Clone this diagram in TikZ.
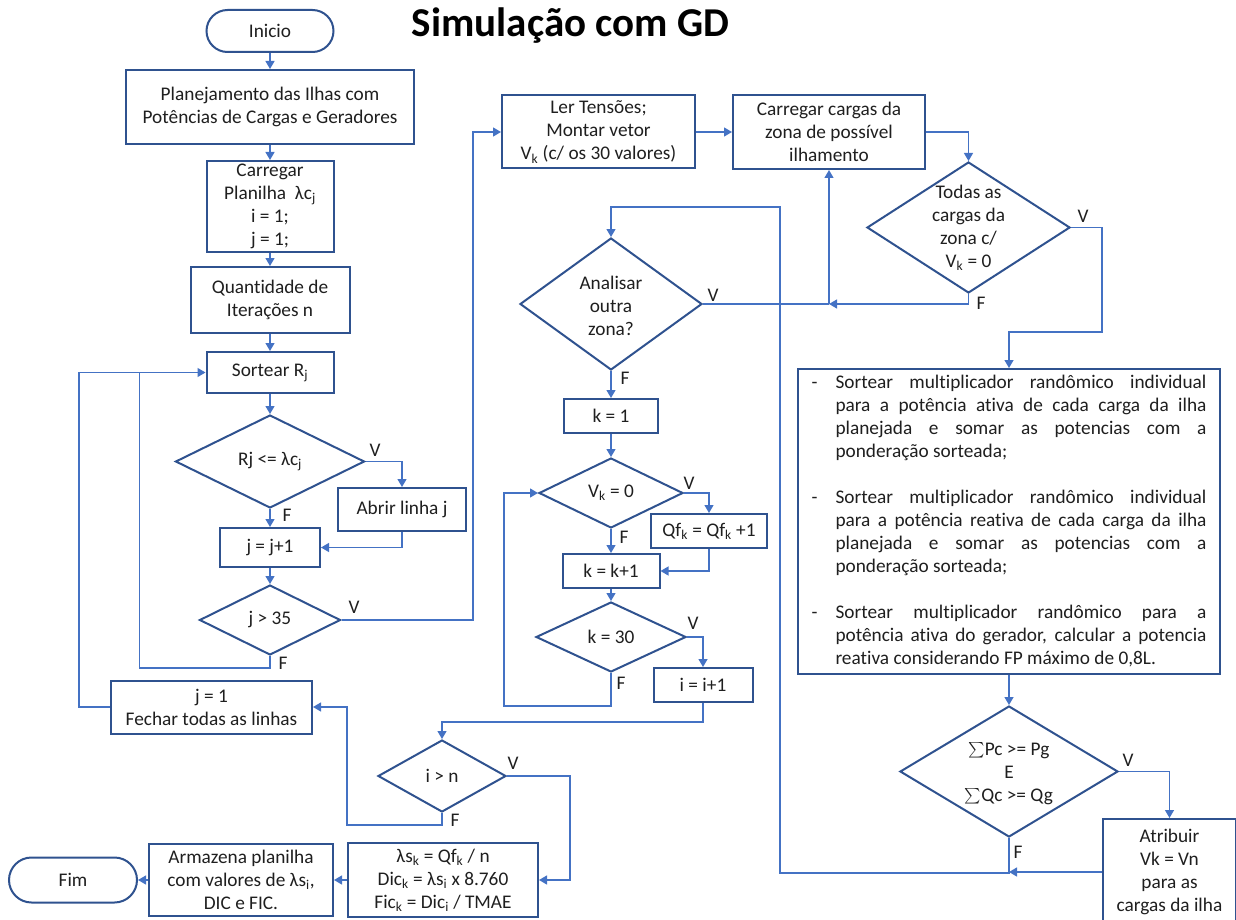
\documentclass[tikz,border=0pt]{standalone}
\usepackage{fontspec}
\setmainfont[Ligatures=NoCommon]{Carlito}
\usetikzlibrary{arrows.meta,shapes.geometric,shapes.misc,calc}
\definecolor{boxblue}{HTML}{2F528F}
\definecolor{lineblue}{HTML}{4472C4}
\definecolor{ink}{HTML}{1F1F1F}
\newcommand\sbs[1]{\textsubscript{#1}}
\newcommand\bigsum{\raisebox{-2.5pt}{\scalebox{1.55}{$\sum$}}}

\begin{document}
\begin{tikzpicture}[x=1pt,y=-1pt,
  every node/.style={text=ink, font=\fontsize{19.3}{23}\selectfont},
  proc/.style args={#1/#2}{draw=boxblue, line width=2pt, fill=white, align=center,
    inner sep=0pt, minimum width=#1, minimum height=#2},
  dec/.style args={#1/#2}{diamond, draw=boxblue, line width=2pt, fill=white,
    inner sep=0pt, minimum width=#1, minimum height=#2},
  term/.style args={#1/#2}{rounded rectangle, draw=boxblue, line width=2pt, fill=white,
    inner sep=0pt, minimum width=#1, minimum height=#2},
  txt/.style={align=center, inner sep=0pt},
  yn/.style={inner sep=0pt},
  link/.style={draw=lineblue, line width=1.3pt},
  conn/.style={link, -{Triangle[length=8pt,width=9pt]}},
  heading/.style={anchor=base, inner sep=0pt, text=black,
    font=\fontsize{41}{44}\selectfont\bfseries},
]
\useasboundingbox (0,0) rectangle (1236,920);
\clip (0,0) rectangle (1236,920);

\node[heading] (title) at (570.5,37) {Simulação com GD};

% ---- left column: drawing the lines ----
\node[term=127pt/42pt] (inicio) at (270,31) {Inicio};
\node[proc=288pt/74pt] (plan) at (270,107) {Planejamento das Ilhas com\\Potências de Cargas e Geradores};
\node[proc=127pt/91pt] (carr) at (270,206.5) {Carregar\\Planilha\ \ λc\sbs{j}\\i = 1;\\j = 1;};
\node[proc=159pt/66pt] (qtd) at (270,300) {Quantidade de\\Iterações n};
\node[proc=127pt/41pt] (sort) at (270,372.5) {Sortear R\sbs{j}};
\node[dec=189pt/93pt] (d1) at (270,461.5) {};
\node[txt] (t1) at (d1) {Rj <= λc\sbs{j}};
\node[proc=128pt/43pt] (abrir) at (402,509.5) {Abrir linha j};
\node[proc=100pt/39pt] (jinc) at (270,547.5) {j = j+1};
\node[dec=141pt/70pt] (d2) at (270,620) {};
\node[txt] (t2) at (d2) {j > 35};
\node[proc=201pt/53pt] (fech) at (211.5,707) {j = 1\\Fechar todas as linhas};

% ---- middle column: voltages and counters ----
\node[proc=193pt/73pt] (ler) at (598.5,132) {Ler Tensões;\\Montar vetor\\V\sbs{k} (c/ os 30 valores)};
\node[proc=192pt/74pt] (carc) at (829,132) {Carregar cargas da\\zona de possível\\ilhamento};
\node[dec=203pt/131pt] (todas) at (968.5,227.5) {};
\node[txt] (t3) at (todas) {Todas as\\cargas da\\zona c/\\V\sbs{k} = 0};
\node[dec=182pt/132pt] (anal) at (611,304) {};
\node[txt] (t4) at (611,306) {Analisar\\outra\\zona?};
\node[proc=94pt/34pt] (k1) at (611,416) {k = 1};
\node[dec=144pt/70pt] (d3) at (611,493) {};
\node[txt] (t5) at (d3) {V\sbs{k} = 0};
\node[proc=116pt/34pt] (qf) at (709,531) {Qf\sbs{k} = Qf\sbs{k} +1};
\node[proc=97pt/34pt] (kinc) at (611,571) {k = k+1};
\node[dec=150pt/70pt] (d4) at (611,637) {};
\node[txt] (t6) at (d4) {k = 30};
\node[proc=99pt/34pt] (iinc) at (703,685) {i = i+1};
\node[dec=128pt/72pt] (d5) at (442,776) {};
\node[txt] (t7) at (d5) {i > n};
\node[proc=190pt/74pt] (calc) at (443,880) {λs\sbs{k} = Qf\sbs{k} / n\\Dic\sbs{k} = λs\sbs{i} x 8.760\\Fic\sbs{k} = Dic\sbs{i} / TMAE};
\node[proc=184pt/72pt] (arm) at (241,880) {Armazena planilha\\com valores de λs\sbs{i},\\DIC e FIC.};
\node[term=128pt/45pt] (fim) at (73,880) {Fim};

% ---- right column: island check ----
\node[proc=422pt/305pt] (big) at (1009,521.5) {\parbox{395pt}{\fontsize{19.3}{23}\selectfont
\noindent\hangindent=24pt\hangafter=1\makebox[24pt][l]{-}Sortear multiplicador randômico individual\linebreak
para a potência ativa de cada carga da ilha\linebreak
planejada e somar as potencias com a\linebreak
ponderação sorteada;\par
\vskip 23pt
\noindent\hangindent=24pt\hangafter=1\makebox[24pt][l]{-}Sortear multiplicador randômico individual\linebreak
para a potência reativa de cada carga da ilha\linebreak
planejada e somar as potencias com a\linebreak
ponderação sorteada;\par
\vskip 23pt
\noindent\hangindent=24pt\hangafter=1\makebox[24pt][l]{-}Sortear multiplicador randômico para a\linebreak
potência ativa do gerador, calcular a potencia\linebreak
reativa considerando FP máximo de 0,8L.\par}};
\node[dec=218pt/131pt] (d6) at (1009,771.5) {};
\node[txt] (t8) at (1009,774) {\bigsum Pc >= Pg\\E\\\bigsum Qc >= Qg};
\node[proc=133pt/106pt] (atrib) at (1169.5,872) {Atribuir\\Vk = Vn\\para as\\cargas da ilha};

\coordinate (jn) at (829,304);

% ---- connectors ----
\draw[conn] (inicio) -- (plan);
\draw[conn] (plan) -- (carr);
\draw[conn] (carr) -- (qtd);
\draw[conn] (qtd) -- (sort);
\draw[conn] (sort) -- (d1);
\draw[conn] (d1) -- (jinc);
\draw[conn] (d1.east) -| (abrir.north);
\draw[conn] (abrir.south) |- (jinc.east);
\draw[conn] (jinc) -- (d2);
\draw[link] (d2.south) -- ++(0,12) -| ($(sort.west)+(-66,0)$);
\draw[conn] (fech.west) -- ++(-31,0) |- (sort.west);
\draw[conn] (d2.east) -| ($(ler.west)+(-28,0)$) -- (ler.west);
\draw[conn] (ler.east) -- (carc.west);
\draw[conn] (carc.east) -| (todas.north);
\draw[conn] (todas.south) |- (jn);
\draw[link] (anal.east) -- (jn);
\draw[conn] (jn) -- (carc.south);
\draw[conn] (todas.east) -- ++(31,0) |- ($(big.north)+(0,-36)$) -- (big.north);
\draw[conn] (anal.south) -- (k1.north);
\draw[conn] (k1) -- (d3);
\draw[conn] (d3.east) -| (qf.north);
\draw[conn] (d3) -- (kinc);
\draw[conn] (qf.south) |- (kinc.east);
\draw[conn] (kinc) -- (d4);
\draw[conn] (d4.east) -| (iinc.north);
\draw[conn] (d4.south) -- ++(0,33) -| ($(d3.west)+(-34,0)$) -- (d3.west);
\draw[conn] (iinc.south) -- ++(0,19) -| (d5.north);
\draw[conn] (d5.south) -- ++(0,12) -| ($(fech.east)+(34,0)$) -- (fech.east);
\draw[conn] (d5.east) -| ($(calc.east)+(31,0)$) -- (calc.east);
\draw[conn] (calc.west) -- (arm.east);
\draw[conn] (arm.west) -- (fim.east);
\draw[conn] (big.south) -- (d6.north);
\draw[conn] (d6.east) -| (atrib.north);
\draw[conn] (d6.south) -- ++(0,35) -| (780,207) -| (anal.north);
\draw[conn] (atrib.west) -- (d6.south |- atrib.west);

% ---- branch labels ----
\node[yn] (v1) at (375,450) {V};
\node[yn] (f1) at (287,515) {F};
\node[yn] (v2) at (354,607) {V};
\node[yn] (f2) at (283,663) {F};
\node[yn] (v3) at (713,295) {V};
\node[yn] (f3) at (625,378) {F};
\node[yn] (v4) at (1083,216) {V};
\node[yn] (f4) at (981,303) {F};
\node[yn] (v5) at (689,483) {V};
\node[yn] (f5) at (624,537) {F};
\node[yn] (v6) at (693,623) {V};
\node[yn] (f6) at (621,683) {F};
\node[yn] (v7) at (513,763) {V};
\node[yn] (f7) at (455,820) {F};
\node[yn] (v8) at (1128,760) {V};
\node[yn] (f8) at (1018,852) {F};
\end{tikzpicture}
\end{document}
